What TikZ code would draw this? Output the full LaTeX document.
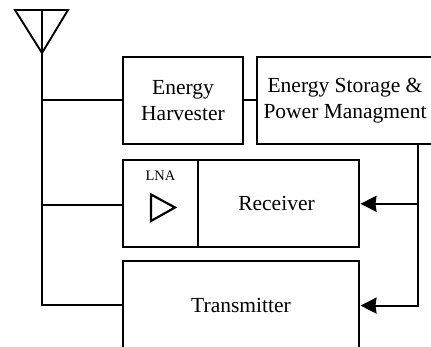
\documentclass[tikz,border=0pt]{standalone}
\usepackage{fontspec}
\setmainfont{Liberation Serif}
\usetikzlibrary{positioning,arrows.meta}
\tikzset{
     block/.style={rectangle, draw, line width=1.9pt, inner sep=0pt, outer sep=0pt,
                   align=center, font=\fontsize{21.5}{26}\selectfont},
     arrow/.style={line width=1.9pt, shorten >=1.5pt, -{Stealth[length=16pt,width=16pt,inset=1pt]}}
     }
\tikzstyle{line} = [draw, line width=1.9pt]
\tikzstyle{amp} = [draw, line width=2.2pt, line join=miter]
\begin{document}
\begin{tikzpicture}[x=1pt,y=-1pt]
    \useasboundingbox (0,0) rectangle (431,347);
    \clip (0,0) rectangle (431,347);
    \node [block, minimum width=120pt, minimum height=87pt] (harvester) at (183,100.8) {Energy\\Harvester};
    \node [block, minimum width=176pt, minimum height=87pt, right=14pt of harvester] (storage) {Energy Storage \&\\Power Managment};
    \node [block, minimum width=75pt, minimum height=87pt, below right=16pt and 0pt of harvester.south west] (lnabox) {};
    \node [block, minimum width=161pt, minimum height=87pt, right=0pt of lnabox] (receiver) {Receiver\hspace*{4pt}};
    \node [block, minimum width=236pt, minimum height=88pt, below right=14pt and 0pt of lnabox.south west] (transmitter) {Transmitter};
    \node [below=10pt of lnabox.north, inner sep=0pt, font=\fontsize{14.5}{16}\selectfont] (lnalabel) {LNA};

    \coordinate (anttop) at (42,10);
    \coordinate (antleft) at (15,10);
    \coordinate (antright) at (68,10);
    \coordinate (anttip) at (42,53);
    \coordinate (bus) at (418,144);

    \path [line] (antleft) -- (antright) -- (anttip) -- cycle;
    \path [line] (anttop) |- ([yshift=0.7pt]transmitter.west);
    \path [line] ([yshift=0.8pt]harvester.west -| anttop) -- ([yshift=0.8pt]harvester.west);
    \path [line] ([yshift=-1pt]lnabox.west -| anttop) -- ([yshift=-1pt]lnabox.west);
    \path [line] ([yshift=0.8pt]harvester.east) -- ([yshift=0.8pt]storage.west);

    \draw [arrow] (bus) |- ([yshift=-0.3pt]transmitter.east);
    \draw [arrow] (receiver.east -| bus) -- (receiver.east);

    \path [amp] (151,194.5) -- (175,207.5) -- (151,221) -- cycle; % amplifier
\end{tikzpicture}
\end{document}
